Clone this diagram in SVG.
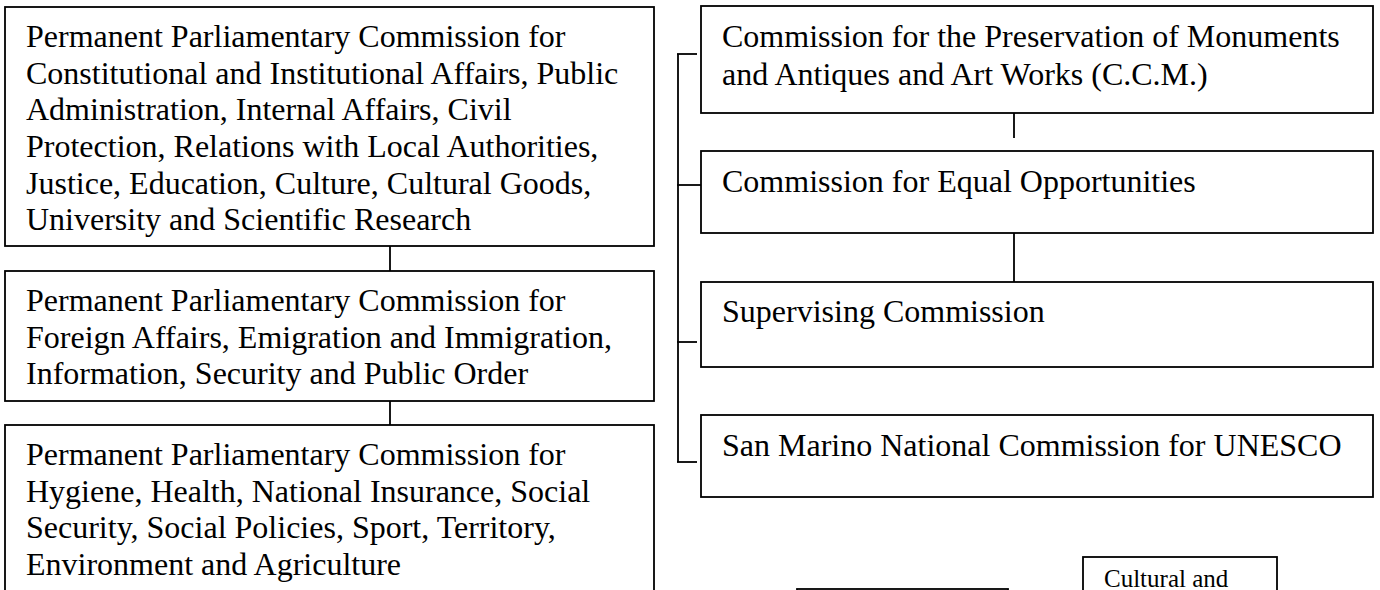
<svg xmlns="http://www.w3.org/2000/svg" width="1380" height="590" viewBox="0 0 1380 590">
<style>
.box{fill:#fff;stroke:#000;stroke-width:1.8}
.ln{fill:none;stroke:#000;stroke-width:1.8}
.t{font-family:"Liberation Serif","Times New Roman",serif;font-size:32px;fill:#000}
.ts{font-family:"Liberation Serif","Times New Roman",serif;font-size:25px;fill:#000}
</style>
<rect width="1380" height="590" fill="#fff"/>
<g id="connectors">
<line class="ln" x1="390" y1="246" x2="390" y2="271"/>
<line class="ln" x1="390" y1="401" x2="390" y2="425"/>
<line class="ln" x1="678" y1="54" x2="678" y2="462"/>
<line class="ln" x1="677" y1="54" x2="697" y2="54"/>
<line class="ln" x1="677" y1="185" x2="701" y2="185"/>
<line class="ln" x1="677" y1="342" x2="697" y2="342"/>
<line class="ln" x1="677" y1="462" x2="697" y2="462"/>
<line class="ln" x1="1014" y1="113" x2="1014" y2="138"/>
<line class="ln" x1="1014" y1="233" x2="1014" y2="282"/>
</g>
<g id="n1">
<rect class="box" x="5" y="7" width="649" height="239"/>
<text class="t"><tspan x="26" y="47">Permanent Parliamentary Commission for</tspan><tspan x="26" y="83.7">Constitutional and Institutional Affairs, Public</tspan><tspan x="26" y="120.3">Administration, Internal Affairs, Civil</tspan><tspan x="26" y="157">Protection, Relations with Local Authorities,</tspan><tspan x="26" y="193.7">Justice, Education, Culture, Cultural Goods,</tspan><tspan x="26" y="230.3">University and Scientific Research</tspan></text>
</g>
<g id="n2">
<rect class="box" x="5" y="271" width="649" height="130"/>
<text class="t"><tspan x="26" y="311">Permanent Parliamentary Commission for</tspan><tspan x="26" y="347.7">Foreign Affairs, Emigration and Immigration,</tspan><tspan x="26" y="384.3">Information, Security and Public Order</tspan></text>
</g>
<g id="n3">
<rect class="box" x="5" y="425" width="649" height="200"/>
<text class="t"><tspan x="26" y="465">Permanent Parliamentary Commission for</tspan><tspan x="26" y="501.7">Hygiene, Health, National Insurance, Social</tspan><tspan x="26" y="538.3">Security, Social Policies, Sport, Territory,</tspan><tspan x="26" y="575">Environment and Agriculture</tspan></text>
</g>
<g id="nA">
<rect class="box" x="701" y="6" width="672" height="107"/>
<text class="t"><tspan x="722" y="47">Commission for the Preservation of Monuments</tspan><tspan x="722" y="85">and Antiques and Art Works (C.C.M.)</tspan></text>
</g>
<g id="nB">
<rect class="box" x="701" y="151" width="672" height="82"/>
<text class="t" x="722" y="192">Commission for Equal Opportunities</text>
</g>
<g id="nC">
<rect class="box" x="701" y="282" width="672" height="85"/>
<text class="t" x="722" y="322">Supervising Commission</text>
</g>
<g id="nD">
<rect class="box" x="701" y="415" width="672" height="82"/>
<text class="t" x="722" y="456">San Marino National Commission for UNESCO</text>
</g>
<g id="nE">
<rect class="box" x="797" y="589" width="211" height="40"/>
</g>
<g id="nF">
<rect class="box" x="1083" y="557" width="194" height="70"/>
<text class="ts" x="1104" y="587">Cultural and</text>
</g>
</svg>
